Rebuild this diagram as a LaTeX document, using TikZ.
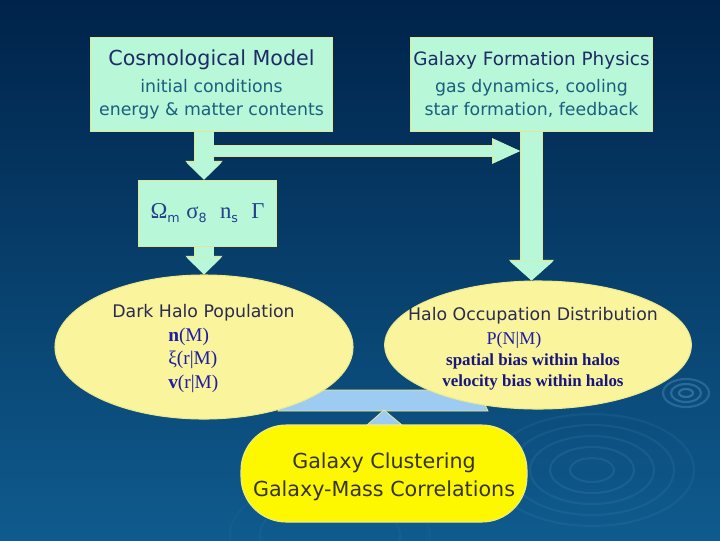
\documentclass[tikz,border=0pt]{standalone}
\usepackage{fontspec}
\setmainfont{DejaVu Sans}
\newfontfamily\slideserif{Liberation Serif}
\usetikzlibrary{arrows.meta,shapes.geometric,positioning}

\definecolor{bgtop}{HTML}{00234A}
\definecolor{bgmid}{HTML}{02345F}
\definecolor{bgbot}{HTML}{0F5B8D}
\definecolor{mint}{HTML}{B8F7D7}
\definecolor{mintline}{HTML}{E3E697}
\definecolor{halofill}{HTML}{FAF59C}
\definecolor{haloline}{HTML}{EDE98E}
\definecolor{clusterfill}{HTML}{FDF700}
\definecolor{paleblue}{HTML}{9DCBF2}
\definecolor{titlecol}{HTML}{1F2B66}
\definecolor{subcol}{HTML}{1A5E80}
\definecolor{greekcol}{HTML}{22408C}
\definecolor{formcol}{HTML}{1C1CA6}
\definecolor{formdark}{HTML}{16167E}
\definecolor{halotxt}{HTML}{2A2A52}
\definecolor{clustxt}{HTML}{35351E}
\definecolor{ripple}{HTML}{5A9CCB}

\newcommand{\titlefont}{\fontsize{15.5}{19}\selectfont}
\newcommand{\subfont}{\fontsize{13}{17.3}\selectfont}
\newcommand{\lowsub}[1]{\raisebox{-3pt}{\fontsize{9.5}{10}\selectfont #1}}

\begin{document}
\begin{tikzpicture}[x=0.75pt,y=-0.75pt]
\tikzset{
  physbox/.style={rectangle,draw=mintline,fill=mint,line width=0.8pt,minimum width=182pt,minimum height=71pt,inner sep=0pt,align=center,font=\subfont,text=subcol},
  parambox/.style={rectangle,draw=mintline,fill=mint,line width=0.8pt,minimum width=104pt,minimum height=50pt,inner sep=0pt,text=greekcol},
  halonode/.style={ellipse,draw=haloline,fill=halofill,line width=0.8pt,inner sep=0pt},
  clusternode/.style={rectangle,rounded corners=34pt,draw=haloline,fill=clusterfill,line width=0.8pt,minimum width=214.5pt,minimum height=72.75pt,inner sep=0pt,align=center,font=\fontsize{15.5}{21}\selectfont,text=clustxt},
  halotitle/.style={inner sep=0pt,font=\fontsize{13}{15}\selectfont,text=halotxt},
  formula/.style={inner sep=0pt,anchor=west,font=\slideserif\fontsize{14.5}{16}\selectfont,text=formcol},
  biasline/.style={inner sep=0pt,font=\slideserif\bfseries\fontsize{12.7}{14}\selectfont,text=formdark},
  blockarrow/.style={draw=mintline,line width=15.5pt,-{Triangle[width=28pt,length=14pt,line width=0pt]},
    postaction={draw=mint,line width=14.25pt,-{Triangle[width=26.25pt,length=12.75pt,line width=0pt]}}},
  bigarrow/.style={draw=mintline,line width=17pt,-{Triangle[width=34pt,length=15.5pt,line width=0pt]},
    postaction={draw=mint,line width=15.75pt,-{Triangle[width=32.25pt,length=14.25pt,line width=0pt]}}},
  sidearrow/.style={draw=mintline,line width=8.7pt,-{Triangle[width=19.5pt,length=21pt,line width=0pt]},
    postaction={draw=mint,line width=7.5pt,-{Triangle[width=18pt,length=20pt,line width=0pt]}}},
  ripplering/.style={draw=ripple,line width=1.6pt}
}
\useasboundingbox (0,0) rectangle (720,540);
\clip (0,0) rectangle (720,540);
\shade[top color=bgtop,middle color=bgmid,bottom color=bgbot] (0,0) rectangle (720,540);

\draw[ripplering,opacity=0.45] (686,393) ellipse (7 and 4);
\draw[ripplering,opacity=0.4] (686,393) ellipse (15 and 9);
\draw[ripplering,opacity=0.35] (686,393) ellipse (23 and 14);
\draw[ripplering,opacity=0.16] (592,470) ellipse (22 and 12);
\draw[ripplering,opacity=0.16] (592,470) ellipse (42 and 23);
\draw[ripplering,opacity=0.14] (592,470) ellipse (62 and 34);
\draw[ripplering,opacity=0.13] (592,470) ellipse (82 and 45);
\draw[ripplering,opacity=0.11] (592,470) ellipse (102 and 56);
\draw[ripplering,opacity=0.08] (330,535) ellipse (70 and 38);
\draw[ripplering,opacity=0.06] (330,535) ellipse (100 and 55);

\filldraw[fill=paleblue,draw=haloline,line width=0.6pt] (292,390) -- (478,390) -- (488,411) -- (278,411) -- cycle;
\filldraw[fill=paleblue,draw=haloline,line width=0.6pt] (384,410) -- (402,425) -- (367,425) -- cycle;

\node[physbox] (n_cosmo) at (211.5,84.5) {{\titlefont\color{titlecol}Cosmological Model}\\[3pt]initial conditions\\energy \& matter contents};
\node[physbox] (n_physics) at (531.5,84.5) {{\fontsize{13.8}{19}\selectfont\color{titlecol}Galaxy Formation Physics}\\[2.5pt]gas dynamics, cooling\\star formation, feedback};
\node[parambox] (n_params) at (207.5,213.5) {\fontsize{17}{19}\selectfont{\slideserif Ω}\lowsub{m}\hspace{5pt}{\slideserif σ}\lowsub{8}\hspace{10pt}{\slideserif n}\lowsub{s}\hspace{10pt}{\slideserif Γ}};
\node[halonode,minimum width=223.5pt,minimum height=108pt] (n_dark) at (204,347) {};
\node[halonode,minimum width=230pt,minimum height=96pt] (n_hod) at (538,345) {};
\node[clusternode] (n_cluster) at (384,473.5) {\rule{0pt}{16.3pt}Galaxy Clustering\\Galaxy-Mass Correlations};

\node[halotitle] (n_darktitle) at (203.5,313) {Dark Halo Population};
\node[formula] (n_nM) at (168,337) {\textbf{n}(M)};
\node[formula] (n_xi) at (168,360) {ξ(r|M)};
\node[formula] (n_vel) at (168,384) {\textbf{v}(r|M)};
\node[halotitle] (n_hodtitle) at (533,316) {Halo Occupation Distribution};
\node[formula,anchor=center,font=\slideserif\fontsize{13.5}{15}\selectfont] (n_pnm) at (514,340) {P(N|M)};
\node[biasline] (n_spatial) at (533,361) {spatial bias within halos};
\node[biasline] (n_velbias) at (533,382) {velocity bias within halos};

\coordinate (c_split) at (213,151);
\coordinate (c_merge) at (520,151);
\draw[blockarrow] (n_cosmo.south -| n_dark.north) -- (n_params.north -| n_dark.north);
\draw[blockarrow] (n_params.south -| n_dark.north) -- (n_dark.north);
\draw[sidearrow] (c_split) -- (c_merge);
\draw[bigarrow] (n_physics.south) -- (n_physics.south |- n_hod.north);
\end{tikzpicture}
\end{document}
